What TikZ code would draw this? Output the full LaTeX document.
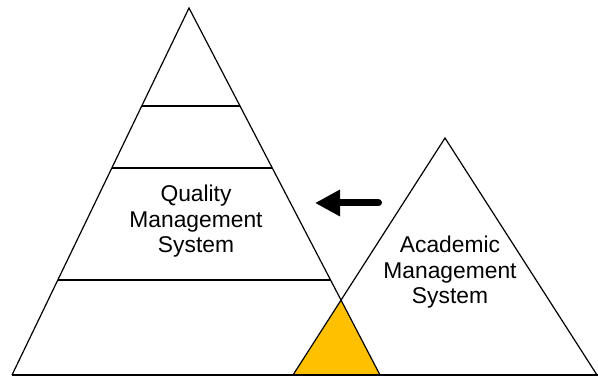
\documentclass[tikz,border=0pt]{standalone}
\usepackage{fontspec}
\setmainfont{Liberation Sans}
\usepackage{tikz}
\usetikzlibrary{arrows.meta, calc}
\definecolor{QMS_Gold}{HTML}{FFC000}

\tikzset{
    edge/.style={line width=1.2pt, black, line join=miter},
    label/.style={align=center, inner sep=0pt, font=\fontsize{22.8}{25.5}\selectfont}
}

\begin{document}
\begin{tikzpicture}[x=1pt, y=-1pt]
    \useasboundingbox (0,0) rectangle (598,377);

    % Corners of the two pyramids
    \coordinate (qtop) at (189,8);
    \coordinate (qleft) at (12,375);
    \coordinate (qright) at (380,375);
    \coordinate (atop) at (445,138);
    \coordinate (aleft) at (293,375);
    \coordinate (aright) at (597,375);
    \coordinate (cross) at (341,300);

    % Overlap of the two systems
    \fill[QMS_Gold] (cross) -- (aleft) -- (qright) -- cycle;

    % Quality pyramid
    \draw[edge] (qleft) -- (qtop) -- (qright);
    % Levels of the quality pyramid
    \foreach \t in {0.267, 0.436, 0.741} {
        \draw[edge] ($(qtop)!\t!(qleft)$) -- ($(qtop)!\t!(qright)$);
    }

    % Academic pyramid
    \draw[edge] (aleft) -- (atop) -- (aright);

    % Ground line
    \draw[edge] (qleft) -- (598,375);

    \node[label] (quality) at (196,221.5) {Quality\\Management\\System};
    \node[label] (academic) at (450,272.5) {Academic\\Management\\System};

    % Arrow from academic to quality
    \coordinate (arrtail) at (378.5,203);
    \coordinate (arrtip) at (315,203);
    \draw[line width=7pt, line cap=round, -{Triangle[length=25pt, width=25pt]}] (arrtail) -- (arrtip);
\end{tikzpicture}
\end{document}
